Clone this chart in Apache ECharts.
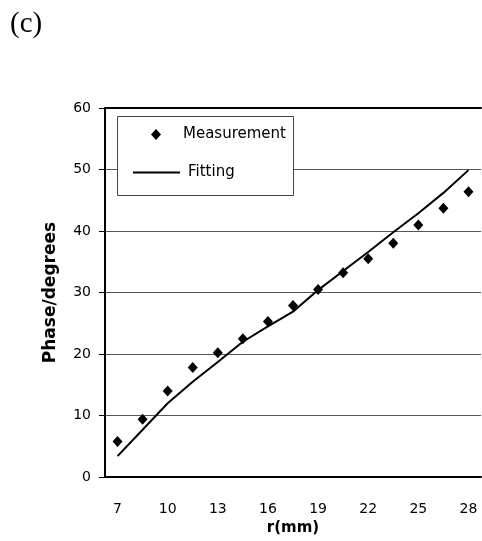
<!DOCTYPE html>
<html style="height: 100%">
<head>
<meta charset="utf-8">
</head>
<body style="height: 100%; margin: 0; background: #fff">
<div id="container" style="width: 482px; height: 541px"></div>
<script type="text/javascript" src="https://cdn.jsdelivr.net/npm/echarts@6/dist/echarts.min.js"></script>
<script type="text/javascript">
// radius categories (mm), every other one gets a label
var radii = ['7', '8.5', '10', '11.5', '13', '14.5', '16', '17.5', '19', '20.5', '22', '23.5', '25', '26.5', '28'];
var measured = [5.8, 9.4, 14.0, 17.8, 20.2, 22.5, 25.3, 27.9, 30.5, 33.2, 35.5, 38.0, 41.0, 43.7, 46.4];
var fitted = [3.4, 7.7, 12.0, 15.5, 18.7, 22.0, 24.5, 26.9, 30.4, 33.5, 36.6, 39.8, 42.9, 46.2, 49.9];
var yTicks = [0, 60, 10]; // min, max, step

var dom = document.getElementById('container');
var myChart = echarts.init(dom);
var font = '"DejaVu Sans", sans-serif';

var option = {
    backgroundColor: '#fff',
    animation: false,
    title: {
        text: '(c)',
        left: 5,
        top: 5,
        textStyle: {
            fontFamily: '"Times New Roman", "Liberation Serif", serif',
            fontWeight: 'normal',
            fontSize: 29,
            color: '#000'
        }
    },
    grid: {
        left: 105,
        right: 1,
        top: 108,
        bottom: 62
    },
    graphic: [{
        type: 'rect',
        z: 3,
        shape: { x: 117.5, y: 116.5, width: 176, height: 79 },
        style: { fill: '#fff', stroke: '#444', lineWidth: 1 }
    }],
    legend: [{
        data: [{ name: 'Measurement', icon: 'diamond' }],
        left: 151,
        top: 127,
        padding: 0,
        itemWidth: 10,
        itemHeight: 11,
        z: 5,
        textStyle: { fontFamily: font, fontSize: 15, color: '#000', padding: [0, 0, 0, 17] }
    }, {
        data: [{ name: 'Fitting', icon: 'rect' }],
        left: 133,
        top: 165,
        padding: 0,
        itemWidth: 47,
        itemHeight: 2,
        z: 5,
        textStyle: { fontFamily: font, fontSize: 15, color: '#000', padding: [0, 0, 0, 3] }
    }],
    xAxis: [{
        type: 'category',
        data: radii,
        boundaryGap: true,
        name: 'r(mm)',
        nameLocation: 'middle',
        nameGap: 41,
        nameTextStyle: { fontFamily: font, fontSize: 15, fontWeight: 'bold', color: '#000' },
        axisLine: { lineStyle: { color: '#000', width: 2 } },
        axisTick: { interval: 0, length: 5, lineStyle: { color: '#000', width: 1 } },
        axisLabel: { interval: 1, margin: 25, fontFamily: font, fontSize: 14, color: '#000' },
        splitLine: { show: false }
    }, {
        type: 'category',
        data: radii,
        position: 'top',
        axisLine: { lineStyle: { color: '#000', width: 2 } },
        axisTick: { show: false },
        axisLabel: { show: false }
    }],
    yAxis: {
        type: 'value',
        min: yTicks[0],
        max: yTicks[1],
        interval: yTicks[2],
        name: 'Phase/degrees',
        nameLocation: 'middle',
        nameGap: 46,
        nameRotate: 90,
        nameTextStyle: { fontFamily: font, fontSize: 17, fontWeight: 'bold', color: '#000' },
        axisLine: { show: true, lineStyle: { color: '#000', width: 2 } },
        axisTick: { show: true, length: 6, lineStyle: { color: '#000' } },
        axisLabel: { margin: 14, fontFamily: font, fontSize: 14, color: '#000' },
        splitLine: { lineStyle: { color: '#555', width: 1 } }
    },
    series: [{
        name: 'Measurement',
        type: 'scatter',
        data: measured,
        symbol: 'diamond',
        symbolSize: [10, 11],
        itemStyle: { color: '#000', opacity: 1 },
        z: 4
    }, {
        name: 'Fitting',
        type: 'line',
        data: fitted,
        symbol: 'none',
        itemStyle: { color: '#000' },
        lineStyle: { color: '#000', width: 2 },
        z: 4
    }]
};

myChart.setOption(option);
</script>
</body>
</html>
